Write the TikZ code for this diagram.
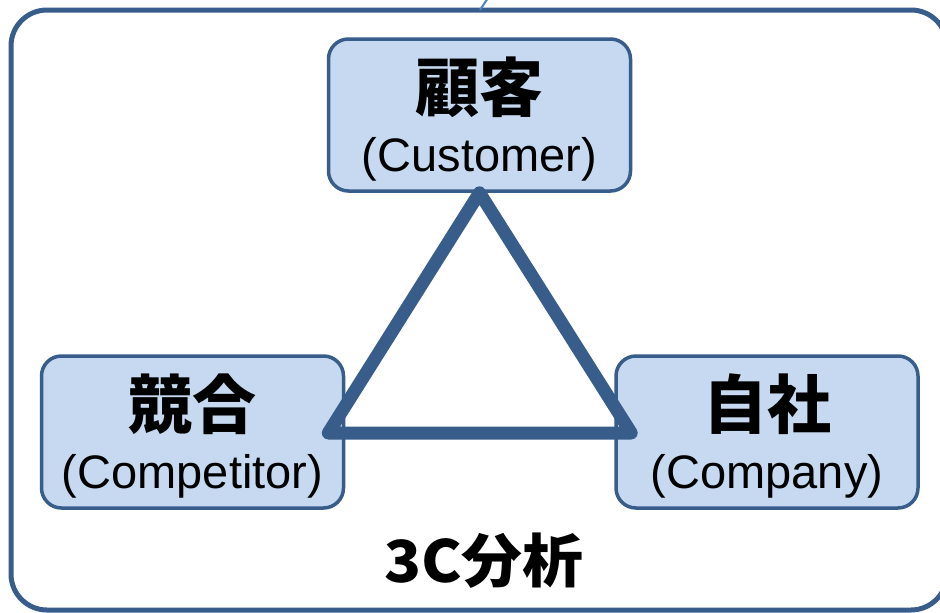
\documentclass[tikz,border=0pt]{standalone}
\usetikzlibrary{calc}
\usepackage{fontspec}
\setmainfont{Liberation Sans}
\newfontfamily\cjk{Noto Sans CJK JP}
\definecolor{bordblue}{HTML}{385D8A}
\definecolor{fillblue}{HTML}{C6D9F1}
\definecolor{lineblue}{HTML}{4F81BD}
\tikzset{
  cbox/.style={draw=bordblue, fill=fillblue, line width=3.5pt, rounded corners=20pt,
    minimum width=302pt, minimum height=152pt, inner sep=0pt},
  jtext/.style={font=\cjk\bfseries\fontsize{64}{64}\selectfont, anchor=base, inner sep=0pt},
  etext/.style={font=\fontsize{47}{47}\selectfont, anchor=base, inner sep=0pt},
  outerframe/.style={draw=bordblue, line width=5pt, rounded corners=36pt},
  tri/.style={draw=bordblue, line width=13pt, line join=round, line cap=round},
  titletext/.style={font=\cjk\bfseries\fontsize{58}{58}\selectfont, anchor=base, inner sep=0pt, xscale=1.05}
}
\begin{document}
\begin{tikzpicture}[x=1pt,y=-1pt]
\useasboundingbox (0,0) rectangle (940,613);
\clip (0,0) rectangle (940,613);
\fill[white] (0,0) rectangle (940,613);
\draw[outerframe] (11,10) rectangle (947,610);
\coordinate (ctop) at (480,10);
\coordinate (ctopend) at (488,-2);
\draw[lineblue, line width=2pt] (ctop) -- (ctopend);
\node[cbox] (cust) at (479.5,115) {};
\node[cbox] (comp) at (192.5,432) {};
\node[cbox] (self) at (767,432) {};
\node[jtext] (custj) at ($(cust.north)+(0,74)$) {顧客};
\node[etext] (custe) at ($(cust.north)+(0,134)$) {(Customer)};
\node[jtext] (compj) at ($(comp.north)+(0,74)$) {競合};
\node[etext] (compe) at ($(comp.north)+(0,134)$) {(Competitor)};
\node[jtext] (selfj) at ($(self.north)+(0,74)$) {自社};
\node[etext] (selfe) at ($(self.north)+(0,134)$) {(Company)};
\coordinate (ta) at (cust.south);
\coordinate (tb) at ($(comp.east)+(-17,1)$);
\coordinate (tc) at ($(self.west)+(17,1)$);
\draw[tri] (ta) -- (tb) -- (tc) -- cycle;
\node[titletext] (title) at (484,582) {3C分析};
\end{tikzpicture}
\end{document}
